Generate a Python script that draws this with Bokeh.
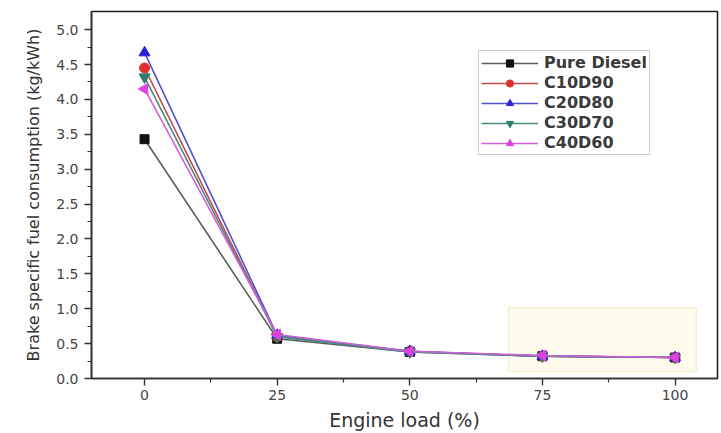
import math
from bokeh.plotting import figure
from bokeh.models import (ColumnDataSource, Legend, LegendItem, BoxAnnotation,
                          FixedTicker, CustomJSTickFormatter)
from bokeh.embed import file_html
from bokeh.resources import INLINE

# ---- data ----
engine_load = [0, 25, 50, 75, 100]
series_names = ["Pure Diesel", "C10D90", "C20D80", "C30D70", "C40D60"]
pure_diesel = [3.43, 0.57, 0.38, 0.32, 0.30]
c10d90 = [4.45, 0.60, 0.39, 0.32, 0.30]
c20d80 = [4.67, 0.62, 0.39, 0.32, 0.30]
c30d70 = [4.32, 0.60, 0.38, 0.32, 0.30]
c40d60 = [4.15, 0.63, 0.39, 0.33, 0.30]
x_ticks = [0, 25, 50, 75, 100]
y_ticks = [0.0, 0.5, 1.0, 1.5, 2.0, 2.5, 3.0, 3.5, 4.0, 4.5, 5.0]

series_values = [pure_diesel, c10d90, c20d80, c30d70, c40d60]
colors = ["#111111", "#e0302c", "#2a22d8", "#2e7d6c", "#e040e0"]
line_colors = ["#55605a", "#c04848", "#5050d0", "#4a8a80", "#d060d8"]
markers = ["square", "circle", "triangle", "inverted_triangle", "triangle"]
angles = [0, 0, 0, 0, math.pi / 2]
sizes = [9, 10, 11, 11, 11]

FONT = "DejaVu Sans"

p = figure(width=721, height=433, output_backend="svg", toolbar_location=None,
           x_range=(-10, 108), y_range=(0, 5.26),
           min_border_left=91, min_border_right=4, min_border_top=11, min_border_bottom=53)

p.xgrid.visible = False
p.ygrid.visible = False
p.outline_line_color = "#222222"
p.outline_line_width = 1.6
p.background_fill_color = "white"
p.border_fill_color = "white"

# highlight box (drawn beneath the data)
p.add_layout(BoxAnnotation(left=68.6, right=104.0, bottom=0.10, top=1.01,
                           fill_color="#fffbe6", fill_alpha=0.7,
                           line_color="#e2d27a", line_width=1.5, level="underlay"))

items = []
for name, vals, c, lc, m, a, s in zip(series_names, series_values, colors, line_colors, markers, angles, sizes):
    src = ColumnDataSource(dict(x=engine_load, y=vals, ang=[a] * len(vals)))
    r1 = p.line("x", "y", source=src, line_color=lc, line_width=1.6)
    r2 = p.scatter("x", "y", source=src, marker=m, size=s, angle="ang",
                   fill_color=c, line_color=c)
    items.append(LegendItem(label=name, renderers=[r1, r2]))

legend = Legend(items=items, location=(387, 223),
                label_text_font=FONT, label_text_font_size="16px",
                label_text_font_style="bold", label_text_color="#3a3a3a",
                glyph_width=57, glyph_height=18, label_height=18, spacing=1, padding=2,
                label_standoff=6, border_line_color="#999999", border_line_width=1,
                background_fill_alpha=1.0, margin=0)
p.add_layout(legend)

for ax in (p.xaxis[0], p.yaxis[0]):
    ax.axis_line_color = "#333333"
    ax.axis_line_width = 1.6
    ax.major_tick_line_color = "#333333"
    ax.minor_tick_line_color = "#333333"
    ax.major_tick_line_width = 1.4
    ax.minor_tick_line_width = 1.2
    ax.major_tick_out = 7
    ax.major_tick_in = 0
    ax.minor_tick_out = 4
    ax.minor_tick_in = 0
    ax.major_label_text_font = FONT
    ax.major_label_text_font_size = "14px"
    ax.major_label_text_color = "#444444"
    ax.axis_label_text_font = FONT
    ax.axis_label_text_font_style = "normal"
    ax.axis_label_text_color = "#333333"

p.xaxis.ticker = FixedTicker(ticks=x_ticks, minor_ticks=[12.5, 37.5, 62.5, 87.5])
p.yaxis.ticker = FixedTicker(ticks=y_ticks, minor_ticks=[v + 0.25 for v in y_ticks[:-1]])
p.yaxis.formatter = CustomJSTickFormatter(code="return tick.toFixed(1);")

p.xaxis.axis_label = "Engine load (%)"
p.yaxis.axis_label = "Brake specific fuel consumption (kg/kWh)"
p.xaxis.axis_label_text_font_size = "19px"
p.yaxis.axis_label_text_font_size = "16px"
p.xaxis.major_label_standoff = 4
p.yaxis.major_label_standoff = 6
p.xaxis.axis_label_standoff = 6
p.yaxis.axis_label_standoff = 10

open("out.html", "w").write(file_html(p, INLINE))
